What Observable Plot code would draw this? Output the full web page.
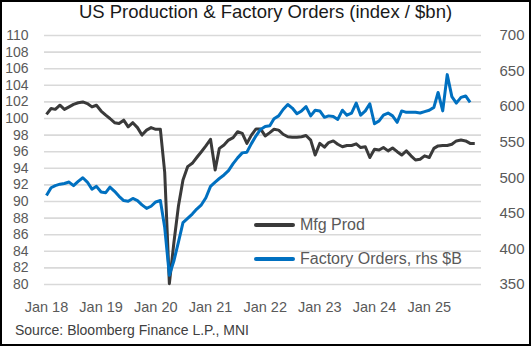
<!DOCTYPE html>
<html>
<head>
<meta charset="utf-8">
<script src="https://cdn.jsdelivr.net/npm/d3@7"></script>
<script src="https://cdn.jsdelivr.net/npm/@observablehq/plot@0.6"></script>
<style>
  html, body { margin: 0; padding: 0; background: #fff; }
  body { width: 531px; height: 346px; position: relative; overflow: hidden; font-family: "Liberation Sans", Arial, sans-serif; }
  #frame { position: absolute; left: 0; top: 0; width: 531px; height: 346px; border: 2px solid #000; box-sizing: border-box; pointer-events: none; z-index: 5; }
  #title { position: absolute; left: 0; top: 1px; width: 531px; text-align: center; font-size: 18.5px; line-height: 22px; color: #1a1a1a; }
  #chart { position: absolute; left: 0; top: 26px; }
  #source { position: absolute; left: 15px; top: 322px; font-size: 14px; line-height: 17px; color: #404040; }
  .leg { position: absolute; left: 254px; height: 20px; font-size: 16px; line-height: 20px; color: #595959; }
  .leg .sw { position: absolute; left: 0; top: 8px; width: 41px; height: 4px; border-radius: 2px; }
  .leg .tx { position: absolute; left: 46px; top: 0; white-space: nowrap; }
</style>
</head>
<body>
<div id="title"></div>
<div id="chart"></div>
<div class="leg" id="leg1" style="top:215px"><div class="sw" style="background:#3a3a3a"></div><div class="tx"></div></div>
<div class="leg" id="leg2" style="top:249px"><div class="sw" style="background:#0070c0"></div><div class="tx"></div></div>
<div id="source"></div>
<div id="frame"></div>
<script>
const titleText = "US Production & Factory Orders (index / $bn)";
const sourceText = "Source: Bloomberg Finance L.P., MNI";
const seriesNames = ["Mfg Prod", "Factory Orders, rhs $B"];

// monthly data starting Jan 2018
const startYear = 2018;
const mfgProd = [
  100.5, 101.2, 101.1, 101.6, 101.1, 101.4, 101.7, 101.9, 102.0, 101.8, 101.4, 101.6,
  100.9, 100.4, 100.0, 99.5, 99.4, 99.8, 99.0, 99.5, 98.9, 98.0, 98.6, 98.9,
  98.7, 98.7, 93.5, 80.1, 85.0, 89.5, 92.6, 94.2, 94.6, 95.3, 96.0, 96.7,
  97.5, 93.8, 96.4, 96.8, 97.4, 97.7, 98.4, 98.2, 97.0, 98.0, 98.75, 98.75,
  97.9, 98.3, 98.7, 98.6, 98.1, 97.8, 97.75, 97.75, 97.8, 97.95, 97.4, 95.6,
  97.0, 96.55, 97.1, 97.3, 96.9, 96.6, 96.75, 96.75, 96.95, 96.5, 96.6, 95.3,
  96.3, 96.2, 96.5, 96.1, 96.45, 96.0, 95.6, 96.1, 95.5, 95.0, 95.1, 95.5,
  95.3, 96.4, 96.7, 96.75, 96.75, 96.9, 97.3, 97.4, 97.3, 97.0, 97.0
];
const factoryOrders = [
  475, 486, 489, 491, 492, 494, 489, 495, 500, 494, 484, 488,
  480, 479, 487, 481, 474, 468, 467, 471, 468, 462, 457, 460,
  466, 468, 430, 363, 383, 410, 437, 443, 449, 456, 462, 472,
  488, 494, 499, 504, 510, 520, 528, 535, 536, 548, 559, 568,
  572, 573, 583, 587, 596, 603, 598, 590, 594, 600, 587, 595,
  594, 585, 587, 586, 582, 595, 588, 591, 605, 588, 594, 604,
  576, 580, 588, 591, 587, 578, 594, 592, 592, 592, 591, 593,
  595, 599, 620, 594, 645, 614, 605, 613, 615, 606
];
const leftTicks = [80, 82, 84, 86, 88, 90, 92, 94, 96, 98, 100, 102, 104, 106, 108, 110];
const rightTicks = [350, 400, 450, 500, 550, 600, 650, 700];
const xTickLabels = ["Jan 18", "Jan 19", "Jan 20", "Jan 21", "Jan 22", "Jan 23", "Jan 24", "Jan 25"];

const leftDomain = [80, 110];
const rightDomain = [350, 700];
const toLeft = v => leftDomain[0] + (v - rightDomain[0]) / (rightDomain[1] - rightDomain[0]) * (leftDomain[1] - leftDomain[0]);
const fromLeft = v => rightDomain[0] + (v - leftDomain[0]) / (leftDomain[1] - leftDomain[0]) * (rightDomain[1] - rightDomain[0]);

const start = new Date(Date.UTC(startYear, 0, 1));
const monthDate = i => d3.utcMonth.offset(start, i);
const mfgRows = mfgProd.map((v, i) => ({date: monthDate(i), value: v}));
const foRows = factoryOrders.map((v, i) => ({date: monthDate(i), value: toLeft(v)}));
const xTicks = xTickLabels.map((_, i) => new Date(Date.UTC(startYear + i, 0, 1)));

document.getElementById("title").textContent = titleText;
document.getElementById("source").textContent = sourceText;
document.querySelector("#leg1 .tx").textContent = seriesNames[0];
document.querySelector("#leg2 .tx").textContent = seriesNames[1];

const chart = Plot.plot({
  width: 531,
  height: 300,
  marginLeft: 44,
  marginRight: 50,
  marginTop: 9,
  marginBottom: 42,
  style: {fontFamily: "'Liberation Sans', Arial, sans-serif", background: "transparent", overflow: "visible"},
  x: {type: "utc", domain: [new Date(Date.UTC(2017, 11, 19)), new Date(Date.UTC(2025, 11, 16))]},
  y: {domain: leftDomain},
  marks: [
    Plot.ruleY(leftTicks, {stroke: "#d9d9d9", strokeWidth: 1.6}),
    Plot.axisY(leftTicks, {anchor: "left", tickSize: 0, tickPadding: 16, fontSize: 14, fill: "#595959", tickFormat: d => String(d), label: null}),
    Plot.axisY(rightTicks.map(toLeft), {anchor: "right", tickSize: 0, tickPadding: 18, fontSize: 15, fill: "#595959", tickFormat: d => String(Math.round(fromLeft(d))), label: null}),
    Plot.axisX(xTicks, {tickSize: 0, tickPadding: 17, fontSize: 14.5, fill: "#595959", tickFormat: (d, i) => xTickLabels[i], label: null}),
    Plot.line(mfgRows, {x: "date", y: "value", stroke: "#3a3a3a", strokeWidth: 3, strokeLinejoin: "round", strokeLinecap: "butt"}),
    Plot.line(foRows, {x: "date", y: "value", stroke: "#0070c0", strokeWidth: 3, strokeLinejoin: "round", strokeLinecap: "butt"})
  ]
});
document.getElementById("chart").appendChild(chart);
</script>
</body>
</html>
